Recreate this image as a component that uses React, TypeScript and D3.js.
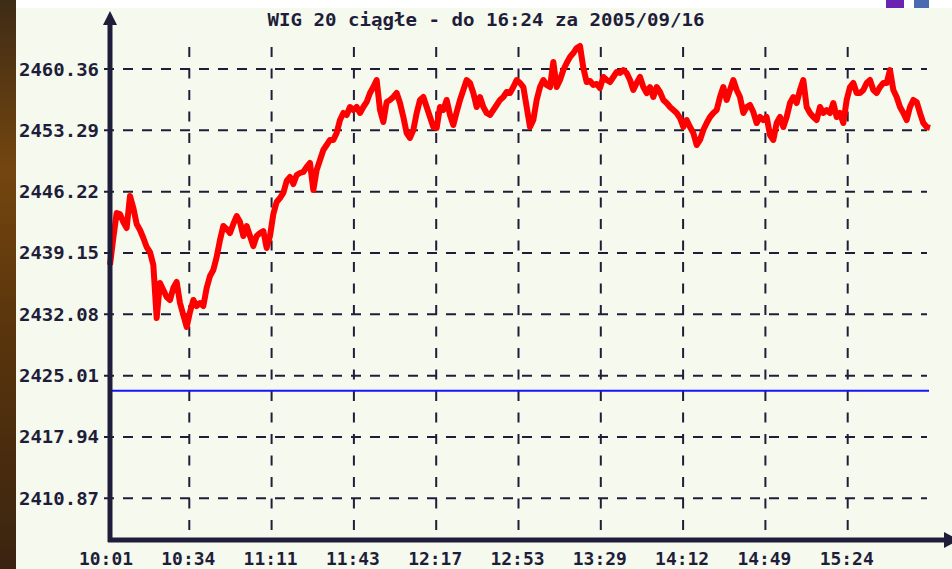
import * as d3 from "d3";
import React from "react";

// chart title, axis labels and the session's values
const title = "WIG 20 ciągłe - do 16:24 za 2005/09/16";
const timeLabels = ["10:01", "10:34", "11:11", "11:43", "12:17", "12:53", "13:29", "14:12", "14:49", "15:24"];
const levelTicks = [2410.87, 2417.94, 2425.01, 2432.08, 2439.15, 2446.22, 2453.29, 2460.36];
const referenceLevel = 2423.28;

const wig20 = [
  2437.77, 2440.88, 2443.76, 2443.64, 2442.72, 2442.03, 2445.72, 2444.34, 2442.49, 2441.8,
  2440.88, 2439.84, 2439.26, 2437.77, 2431.66, 2435.69, 2434.88, 2434.08, 2433.73, 2435.11,
  2435.81, 2433.38, 2432.0, 2430.62, 2432.35, 2433.73, 2433.04, 2433.38, 2433.04, 2435.11,
  2436.5, 2437.19, 2438.69, 2440.65, 2442.26, 2441.92, 2441.45, 2442.49, 2443.41, 2442.72,
  2441.11, 2442.26, 2441.11, 2439.95, 2441.11, 2441.45, 2441.68, 2439.72, 2441.11, 2443.64,
  2445.03, 2445.49,
  2446.07, 2447.45, 2447.91, 2447.1, 2448.14, 2448.37, 2448.49, 2449.06, 2449.52, 2446.41,
  2448.72, 2449.87, 2451.02, 2451.6, 2452.18, 2452.18, 2452.98, 2454.48, 2455.29, 2455.06,
  2455.98, 2455.63, 2455.98, 2455.29, 2455.98, 2456.56, 2457.59, 2458.28, 2459.09, 2455.63,
  2454.25, 2456.56, 2456.79, 2457.13, 2457.59, 2456.44, 2454.83, 2452.98, 2452.41, 2453.33,
  2455.29, 2456.79, 2457.13, 2455.98, 2454.83, 2453.67, 2453.56, 2455.98, 2455.63, 2456.79,
  2455.06, 2453.9, 2455.4, 2456.79, 2457.94, 2459.09, 2458.75, 2457.59, 2455.98, 2457.13,
  2455.98, 2455.29, 2455.06, 2455.63, 2456.21, 2456.79, 2457.13, 2457.71, 2457.59, 2458.28,
  2459.09, 2458.75, 2458.28, 2455.98, 2453.67, 2454.48, 2456.79, 2458.28, 2459.09, 2458.52,
  2458.28, 2461.17, 2458.28, 2459.09, 2460.24, 2461.05, 2461.74, 2462.2, 2462.78, 2463.01,
  2460.48, 2458.86, 2458.98, 2458.52, 2458.63, 2458.17, 2459.44, 2459.09, 2458.86, 2459.44,
  2460.01, 2459.9, 2460.24, 2459.9, 2459.09, 2457.94, 2458.75, 2459.44, 2458.28, 2457.59,
  2458.28, 2457.13, 2458.28, 2457.71, 2456.79, 2456.44, 2455.98, 2455.63, 2455.29, 2454.71,
  2453.67, 2454.48, 2453.67, 2452.98, 2451.6, 2452.18, 2453.33, 2454.13, 2454.83, 2455.29,
  2455.63, 2457.13, 2458.28, 2456.79, 2457.94, 2459.09, 2457.94, 2457.13, 2455.29, 2455.98,
  2456.21, 2455.4, 2454.13, 2454.83, 2454.48, 2454.83, 2452.75, 2452.18, 2454.13, 2454.83,
  2453.67, 2454.83, 2456.44, 2457.13, 2456.44, 2457.94, 2459.09, 2455.98, 2455.29, 2454.83,
  2454.48, 2455.98, 2455.29, 2455.63, 2455.29, 2456.44, 2454.83, 2455.29, 2454.13, 2456.79,
  2458.28, 2458.75, 2457.59, 2457.59, 2457.94, 2458.75, 2459.09, 2457.94, 2457.59, 2458.28,
  2458.75, 2458.75, 2460.24, 2457.94, 2457.13, 2455.98, 2455.29, 2454.48, 2455.98, 2456.79,
  2456.56, 2455.29, 2454.13, 2453.67, 2453.56,
];

const W = 952;
const H = 569;
const ink = "#1e1e3a";
const font = "'DejaVu Sans Mono', monospace";

export default function App() {
  // plot frame
  const axisX = 110;
  const axisY = 540;

  const slot = d3.scaleLinear().domain([0, timeLabels.length]).range([107, 930]);
  const xi = d3.scaleLinear().domain([0, wig20.length - 1]).range([110, 930]);
  const y = d3
    .scaleLinear()
    .domain([levelTicks[0], levelTicks[levelTicks.length - 1]])
    .range([498.3, 69]);

  const line = d3
    .line<number>()
    .x((d, i) => xi(i))
    .y((d) => y(d));

  return (
    <div style={{ position: "absolute", left: 0, top: 0 }}>
      <svg width={W} height={H} style={{ display: "block" }}>
        <defs>
          <linearGradient id="frame" x1="0" y1="0" x2="0" y2="1">
            <stop offset="0" stopColor="#3e2c16" />
            <stop offset="0.3" stopColor="#74460f" />
            <stop offset="0.55" stopColor="#5c360c" />
            <stop offset="1" stopColor="#3a2410" />
          </linearGradient>
        </defs>

        <rect x={0} y={0} width={W} height={H} fill="#f6f9ee" />
        <rect x={0} y={0} width={W} height={8} fill="#ffffff" />
        <rect x={0} y={0} width={16} height={H} fill="url(#frame)" />
        <rect x={886} y={0} width={18} height={8} fill="#6b23b1" />
        <rect x={914} y={0} width={15} height={8} fill="#4a6bb1" />

        {/* title */}
        <text
          x={486}
          y={26}
          textAnchor="middle"
          fontFamily={font}
          fontWeight="bold"
          fontSize={18}
          fill={ink}
          textLength={437}
          lengthAdjust="spacingAndGlyphs"
        >
          {title}
        </text>

        {/* dashed grid */}
        <g stroke={ink} strokeWidth={2}>
          {levelTicks.map((t) => (
            <line key={t} x1={104} x2={927} y1={y(t)} y2={y(t)} strokeDasharray="10 9" />
          ))}
          {timeLabels.slice(1).map((t, i) => (
            <line
              key={t}
              x1={slot(i + 1)}
              x2={slot(i + 1)}
              y1={530}
              y2={46}
              strokeDasharray="10 11.5"
            />
          ))}
        </g>

        {/* reference level */}
        <line
          x1={axisX}
          x2={929}
          y1={y(referenceLevel)}
          y2={y(referenceLevel)}
          stroke="#1414ff"
          strokeWidth={2}
        />

        {/* index line */}
        <path
          d={line(wig20) ?? ""}
          fill="none"
          stroke="#ff0000"
          strokeWidth={6}
          strokeLinejoin="round"
        />

        {/* axes */}
        <line x1={axisX} x2={axisX} y1={axisY + 2} y2={22} stroke={ink} strokeWidth={5} />
        <path d={`M103,25 L117,25 L110,11 Z`} fill={ink} />
        <line x1={axisX - 2} x2={945} y1={axisY} y2={axisY} stroke={ink} strokeWidth={5} />
        <path d={`M944,532 L944,548 L959,540 Z`} fill={ink} />

        {/* level labels */}
        {levelTicks.map((t) => (
          <text
            key={t}
            x={99}
            y={y(t) + 6.5}
            textAnchor="end"
            fontFamily={font}
            fontWeight="bold"
            fontSize={18}
            fill={ink}
            textLength={80}
            lengthAdjust="spacingAndGlyphs"
          >
            {t.toFixed(2)}
          </text>
        ))}

        {/* time labels */}
        {timeLabels.map((t, i) => (
          <text
            key={t}
            x={slot(i) - 1}
            y={565}
            textAnchor="middle"
            fontFamily={font}
            fontWeight="bold"
            fontSize={18}
            fill={ink}
            textLength={54}
            lengthAdjust="spacingAndGlyphs"
          >
            {t}
          </text>
        ))}
      </svg>
    </div>
  );
}
